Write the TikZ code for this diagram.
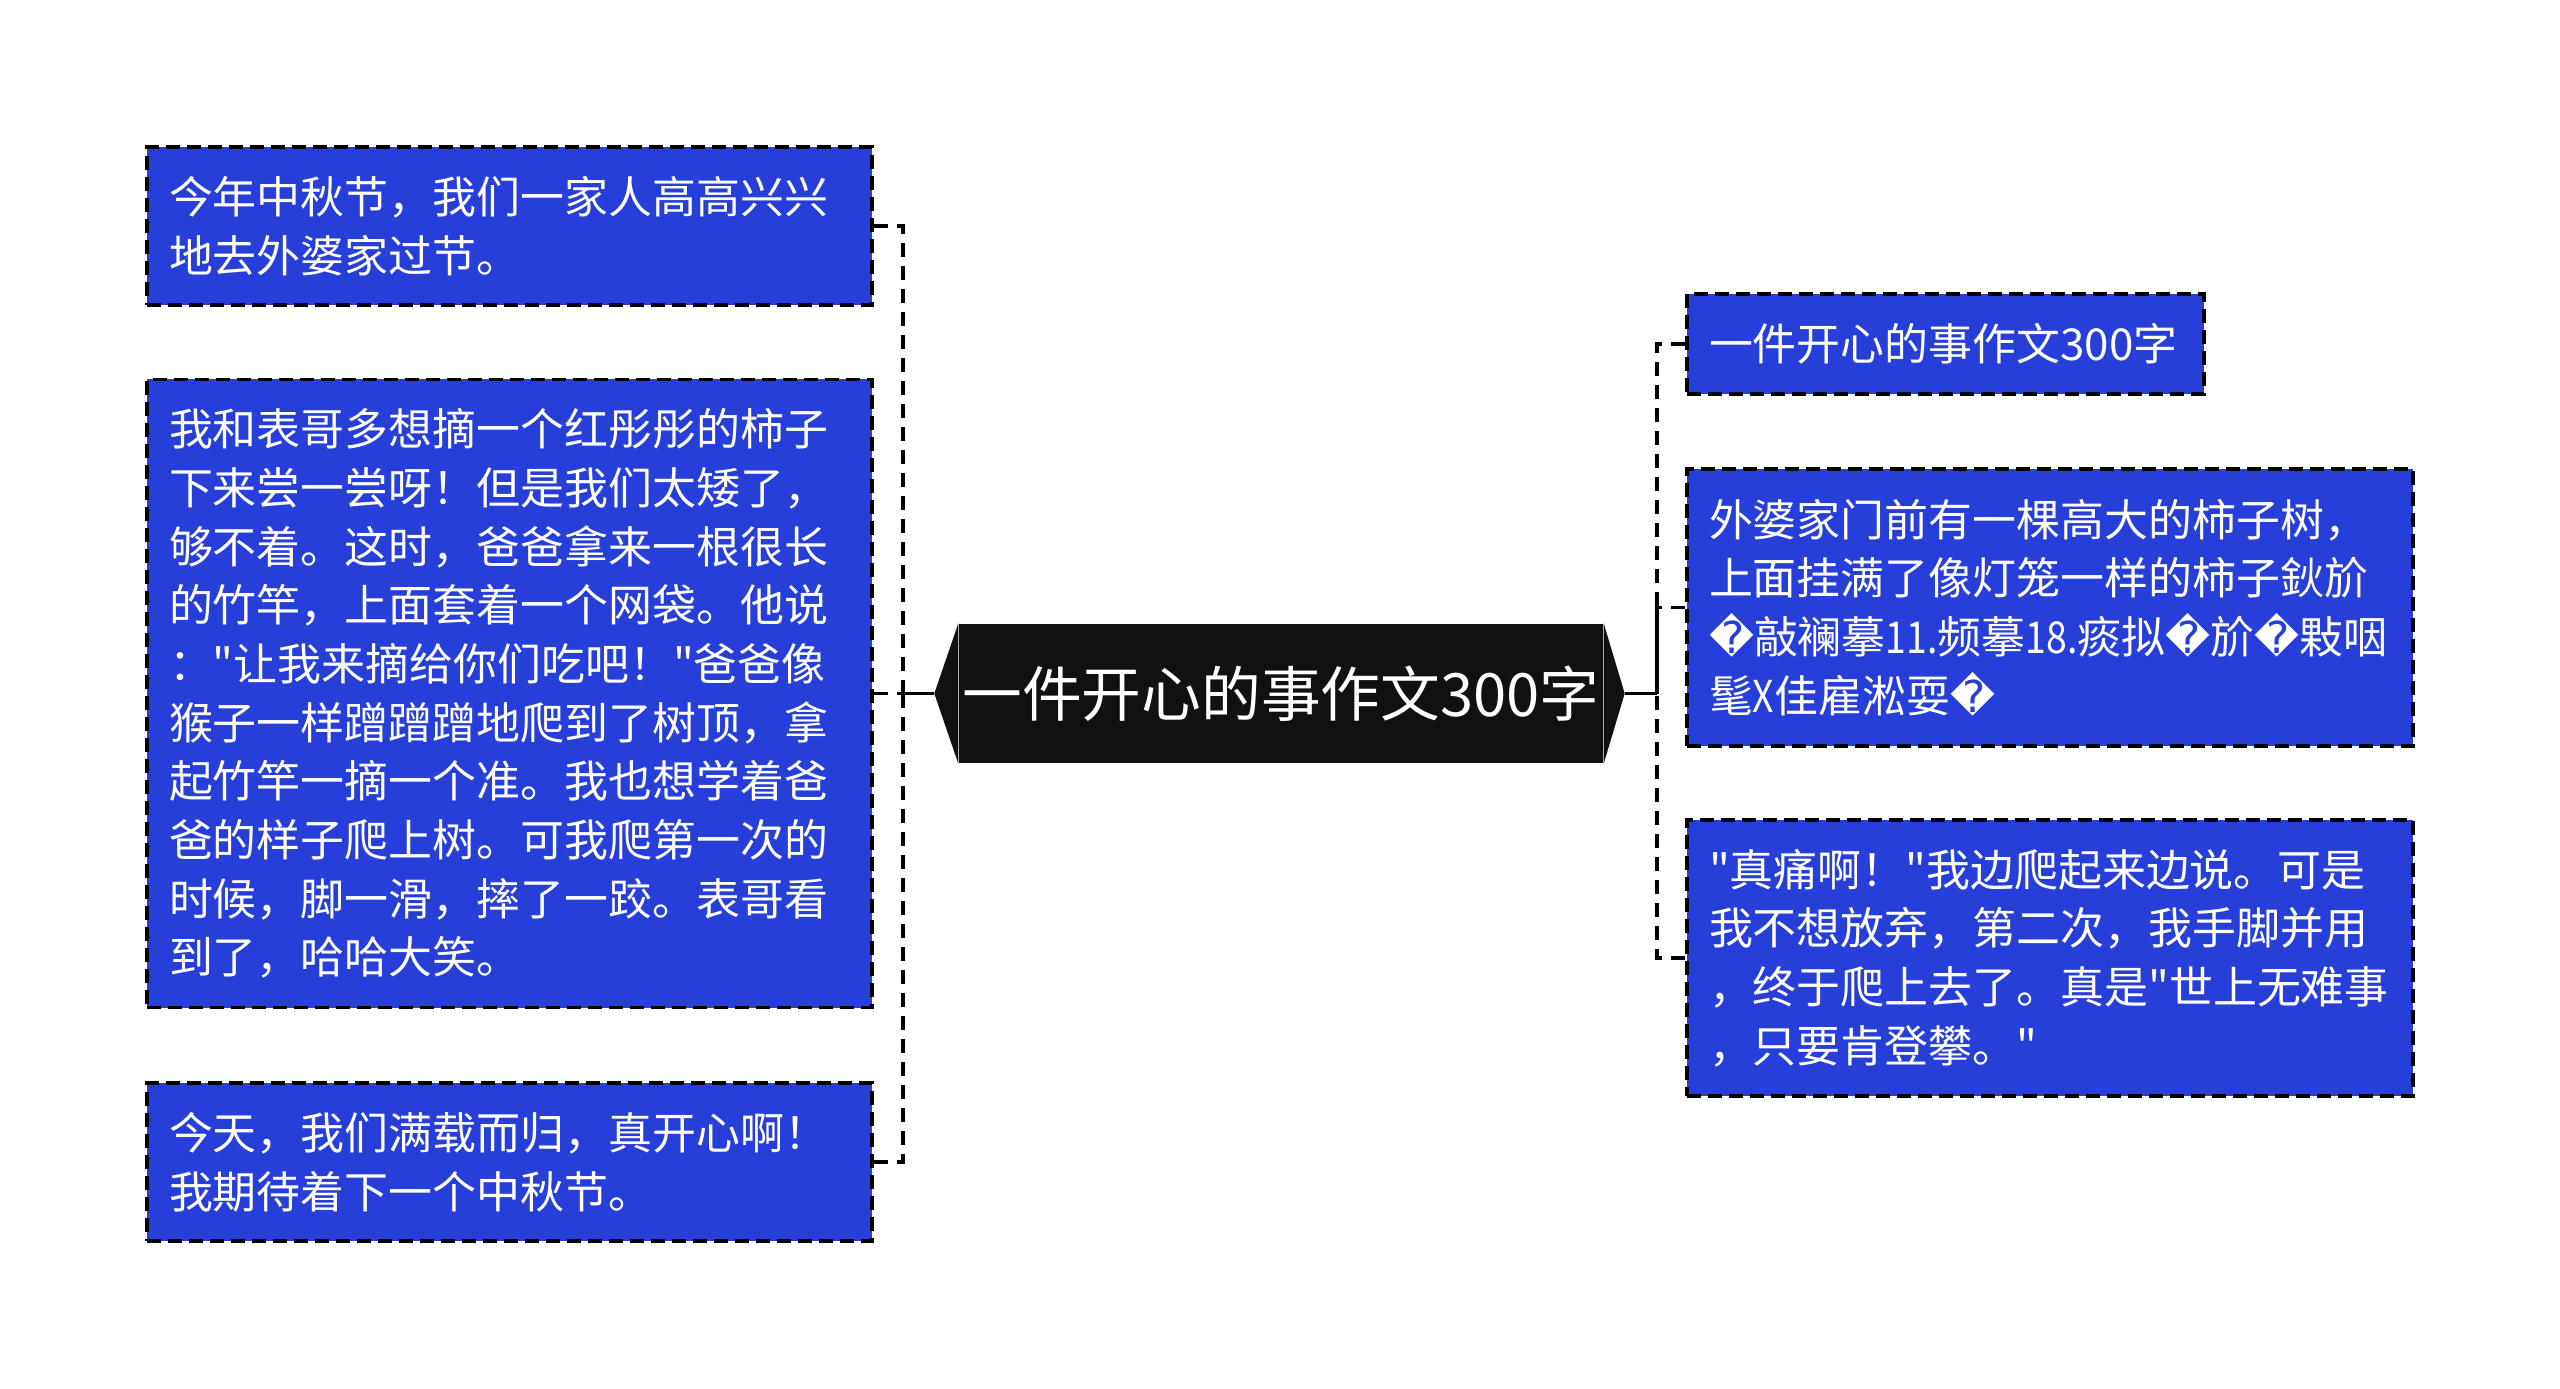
\documentclass[tikz,border=0pt]{standalone}
\usepackage{fontspec}
\setmainfont{Noto Sans CJK SC}[Ligatures=TeXOff]
\newfontfamily\djv{DejaVu Sans}
\newfontfamily\narrow{Noto Sans CJK SC}[FakeStretch=0.85]
\usepackage{tikz}
\usetikzlibrary{calc}
\definecolor{leafblue}{RGB}{37,63,216}
\definecolor{topblack}{RGB}{17,17,17}
\newcommand\bad{{\djv �}}
\tikzset{
  leaf/.style={draw=black, fill=leafblue, text=white, line width=1.1pt,
    dash pattern=on 0.14cm off 0.07cm, align=left, inner xsep=0.22cm,
    font=\fontsize{12.5pt}{16.7pt}\selectfont},
  link/.style={line width=1.1pt, dash pattern=on 0.14cm off 0.09cm},
}
\begin{document}
\begin{tikzpicture}
\useasboundingbox (0,0) rectangle (25.6,-13.89);

% central topic
\node [fill=topblack, text=white, minimum width=6.44cm, minimum height=1.39cm, inner sep=0,
  font=\fontsize{17pt}{20pt}\selectfont] (top) at (12.81,-6.935) {一件开心的事作文300字};
\coordinate (tl) at ($(top.west)+(-0.24,0)$);
\coordinate (tr) at ($(top.east)+(0.21,0)$);
\fill [topblack] (top.north west) -- (tl) -- (top.south west) -- cycle;
\fill [topblack] (top.north east) -- (tr) -- (top.south east) -- cycle;

% left branch
\node [leaf, minimum height=1.58cm, text width=6.81cm] (b1) at (5.095,-2.26)
  {今年中秋节，我们一家人高高兴兴\\地去外婆家过节。};
\node [leaf, minimum height=6.28cm, text width=6.81cm] (b2) at (5.095,-6.935)
  {我和表哥多想摘一个红彤彤的柿子\\下来尝一尝呀！但是我们太矮了，\\够不着。这时，爸爸拿来一根很长\\的竹竿，上面套着一个网袋。他说\\："让我来摘给你们吃吧！"爸爸像\\猴子一样蹭蹭蹭地爬到了树顶，拿\\起竹竿一摘一个准。我也想学着爸\\爸的样子爬上树。可我爬第一次的\\时候，脚一滑，摔了一跤。表哥看\\到了，哈哈大笑。};
\node [leaf, minimum height=1.58cm, text width=6.81cm] (b3) at (5.095,-11.62)
  {今天，我们满载而归，真开心啊！\\我期待着下一个中秋节。};
\coordinate (lj) at (9.03,-6.935);
\draw [line width=1.1pt] (tl) -- (lj);
\draw [link] (b1.east) -| (lj);
\draw [link] (b2.east) -- (lj);
\draw [link] (b3.east) -| (lj);

% right branch
\node [leaf, minimum height=1.0cm, text width=4.73cm] (a1) at (19.455,-3.44)
  {一件开心的事作文300字};
\node [leaf, minimum height=2.77cm, text width=6.82cm] (a2) at (20.5,-6.075)
  {外婆家门前有一棵高大的柿子树，\\上面挂满了像灯笼一样的柿子鈥斺\\\bad 敲襕摹{\narrow 11.}频摹{\narrow 18.}痰拟\bad 斺\bad 敤咽\\髦{\narrow X}佳雇淞耍\bad};
\node [leaf, minimum height=2.76cm, text width=6.82cm] (a3) at (20.5,-9.58)
  {"真痛啊！"我边爬起来边说。可是\\我不想放弃，第二次，我手脚并用\\，终于爬上去了。真是"世上无难事\\，只要肯登攀。"};
\coordinate (rj) at (16.57,-6.935);
\draw [line width=1.1pt] (tr) -- (rj);
\draw [link] (a1.west) -| (rj);
\draw [link] (a2.west) -| (rj);
\draw [link] (a3.west) -| (rj);

\end{tikzpicture}
\end{document}
